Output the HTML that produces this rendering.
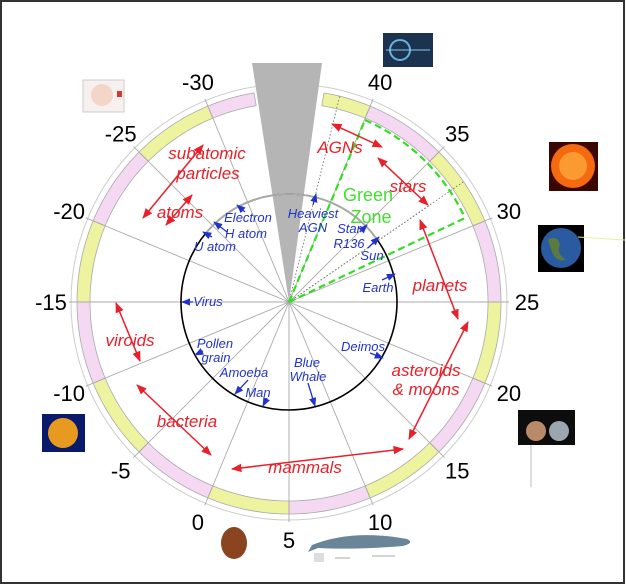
<!DOCTYPE html>
<html><head><meta charset="utf-8"><style>
html,body{margin:0;padding:0;background:#fff;}
svg{display:block;}
text{font-family:"Liberation Sans",sans-serif;}
.r{fill:#e8202a;font-style:italic;font-size:17px;text-anchor:middle;}
.b{fill:#2233cc;font-style:italic;font-size:13px;text-anchor:middle;}
.n{fill:#000;font-size:22px;text-anchor:middle;}
</style></head><body>
<svg id="s" width="626" height="586" viewBox="0 0 626 586" xmlns="http://www.w3.org/2000/svg">
<defs>
<marker id="ar" viewBox="0 0 10 10" refX="9" refY="5" markerWidth="7" markerHeight="7" orient="auto-start-reverse"><path d="M0,1 L10,5 L0,9 z" fill="#e8202a"/></marker>
<marker id="ab" viewBox="0 0 10 10" refX="9" refY="5" markerWidth="7" markerHeight="7" orient="auto"><path d="M0,1 L10,5 L0,9 z" fill="#2233cc"/></marker>
</defs>
<rect x="1" y="1" width="623" height="582" fill="#fff" stroke="#333" stroke-width="2"/>
<g id="ring"></g>
<g id="ticks"></g>
<polygon points="289,302 252,63 322,63" fill="#b5b5b5"/>
<circle cx="289" cy="302" r="108" fill="none" stroke="#000" stroke-width="1.6"/>
<path id="grayarc" fill="none" stroke="#aaa" stroke-width="1.8"/>
<g id="labels"></g>
<g stroke="#666" stroke-width="0.8" stroke-dasharray="1.5,2">
<line x1="289" y1="302" x2="340" y2="95"/>
<line x1="289" y1="302" x2="463" y2="182"/>
<line x1="289" y1="302" x2="430" y2="205"/>
</g>
<g stroke="#33dd22" stroke-width="2.2" fill="none" stroke-dasharray="7,4">
<line x1="289" y1="302" x2="365" y2="120"/>
<line x1="289" y1="302" x2="465" y2="218"/>
<path d="M365,120 A197,197 0 0 1 465,218"/>
</g>
<text x="368" y="201" fill="#44dd30" font-size="18" text-anchor="middle">Green</text>
<text x="371" y="223" fill="#44dd30" font-size="18" text-anchor="middle">Zone</text>
<g stroke="#e8202a" stroke-width="1.5" marker-start="url(#ar)" marker-end="url(#ar)">
<line x1="143" y1="218" x2="203" y2="145"/>
<line x1="166" y1="225" x2="192" y2="195"/>
<line x1="332" y1="124" x2="382" y2="147"/>
<line x1="378" y1="158" x2="428" y2="205"/>
<line x1="420" y1="220" x2="458" y2="319"/>
<line x1="468" y1="322" x2="409" y2="439"/>
<line x1="116" y1="303" x2="140" y2="361"/>
<line x1="137" y1="385" x2="211" y2="455"/>
<line x1="232" y1="469" x2="403" y2="449"/>
</g>
<text class="r" x="207" y="159">subatomic</text>
<text class="r" x="208" y="179">particles</text>
<text class="r" x="180" y="218">atoms</text>
<text class="r" x="340" y="153">AGNs</text>
<text class="r" x="408" y="192">stars</text>
<text class="r" x="440" y="291">planets</text>
<text class="r" x="130" y="346">viroids</text>
<text class="r" x="426" y="376">asteroids</text>
<text class="r" x="426" y="395">&amp; moons</text>
<text class="r" x="187" y="427">bacteria</text>
<text class="r" x="305" y="473">mammals</text>
<g stroke="#2233cc" stroke-width="1.3" marker-end="url(#ab)">
<line x1="245" y1="212" x2="237" y2="205"/>
<line x1="227" y1="232" x2="214" y2="222"/>
<line x1="212" y1="237" x2="203" y2="232"/>
<line x1="313" y1="205" x2="316" y2="194"/>
<line x1="360" y1="232" x2="367" y2="225"/>
<line x1="368" y1="248" x2="379" y2="237"/>
<line x1="382" y1="280" x2="395" y2="274"/>
<line x1="193" y1="302" x2="182" y2="302"/>
<line x1="203" y1="351" x2="195" y2="355"/>
<line x1="248" y1="380" x2="235" y2="394"/>
<line x1="267" y1="398" x2="263" y2="406"/>
<line x1="308" y1="383" x2="315" y2="406"/>
<line x1="370" y1="353" x2="383" y2="358"/>
</g>
<text class="b" x="248" y="222">Electron</text>
<text class="b" x="246" y="238">H atom</text>
<text class="b" x="215" y="251">U atom</text>
<text class="b" x="313" y="218">Heaviest</text>
<text class="b" x="313" y="232">AGN</text>
<text class="b" x="349" y="233">Star</text>
<text class="b" x="349" y="248">R136</text>
<text class="b" x="372" y="260">Sun</text>
<text class="b" x="378" y="292">Earth</text>
<text class="b" x="208" y="306">Virus</text>
<text class="b" x="215" y="348">Pollen</text>
<text class="b" x="216" y="362">grain</text>
<text class="b" x="244" y="377">Amoeba</text>
<text class="b" x="258" y="397">Man</text>
<text class="b" x="307" y="367">Blue</text>
<text class="b" x="308" y="381">Whale</text>
<text class="b" x="363" y="351">Deimos</text>
<rect x="383" y="33" width="50" height="34" fill="#1c3350"/>
<circle cx="400" cy="50" r="10" fill="none" stroke="#6ab0e0" stroke-width="2"/>
<line x1="386" y1="50" x2="430" y2="50" stroke="#8cc8f0"/>
<rect x="83" y="80" width="41" height="32" fill="#f6f0ee" stroke="#ccc"/>
<circle cx="102" cy="95" r="11" fill="#f3d6c8"/>
<rect x="117" y="91" width="5" height="6" fill="#d33"/>
<rect x="549" y="142" width="49" height="49" fill="#3a0800"/>
<circle cx="573" cy="166" r="22" fill="#f56a10"/>
<circle cx="573" cy="166" r="14" fill="#fb9a30"/>
<rect x="538" y="225" width="46" height="47" fill="#000"/>
<circle cx="561" cy="248" r="20" fill="#2a5aa0"/>
<path d="M548,240 q8,-6 12,4 q-4,10 6,16 q-10,2 -14,-8z" fill="#5a7a40"/>
<rect x="42" y="414" width="43" height="38" fill="#0a1a6a"/>
<circle cx="63" cy="433" r="15" fill="#e89a20"/>
<rect x="518" y="410" width="57" height="35" fill="#0d0d0d"/>
<circle cx="536" cy="431" r="10" fill="#b88a6a"/>
<circle cx="559" cy="431" r="10" fill="#9aa6b0"/>
<line x1="531" y1="445" x2="531" y2="487" stroke="#bbb"/>
<ellipse cx="234" cy="543" rx="13" ry="16" fill="#8a4420"/>
<path d="M312,545 q40,-16 95,-6 q8,4 -4,7 q-50,4 -85,2 l-10,4z" fill="#6a8498"/>
<rect x="314" y="553" width="10" height="9" fill="#ddd"/>
<line x1="335" y1="558" x2="350" y2="558" stroke="#aaa"/>
<line x1="372" y1="556" x2="395" y2="556" stroke="#aaa"/>
<line x1="578" y1="237" x2="625" y2="240" stroke="#e8f0a0" stroke-width="1"/>
</svg>
<script>
(function(){
var NS="http://www.w3.org/2000/svg",cx=289,cy=302;
function el(t,a,p){var e=document.createElementNS(NS,t);for(var k in a)e.setAttribute(k,a[k]);p.appendChild(e);return e;}
function ang(v){return (180+(v+15)*4.5)*Math.PI/180;}
function pt(a,r){return [cx+r*Math.cos(a),cy-r*Math.sin(a)];}
function seg(a1,a2,r1,r2,fill,g){
 var pts=[],n=24,j,a;
 for(j=0;j<=n;j++){a=a1+(a2-a1)*j/n;pts.push(pt(a,r2).join(","));}
 for(j=n;j>=0;j--){a=a1+(a2-a1)*j/n;pts.push(pt(a,r1).join(","));}
 el("polygon",{points:pts.join(" "),fill:fill,stroke:"#aaa","stroke-width":"0.8"},g);
}
var ring=document.getElementById("ring"),Y="#eef3a0",P="#f5d8f2";
el("circle",{cx:cx,cy:cy,r:218,fill:"none",stroke:"#ccc","stroke-width":"1"},ring);
for(var i=0;i<14;i++){var v=-30+5*i;seg(ang(v),ang(v+5),199,212,(i%2==0)?Y:P,ring);}
seg(ang(40),80.5*Math.PI/180+2*Math.PI,199,212,Y,ring);
seg(99.5*Math.PI/180,ang(-30),199,212,P,ring);
var tk=document.getElementById("ticks"),lb=document.getElementById("labels");
for(var w=-30;w<=40;w+=5){var a=ang(w),e=pt(a,220);
 el("line",{x1:cx,y1:cy,x2:e[0],y2:e[1],stroke:"#aaa","stroke-width":"0.9"},tk);
 var l=pt(a,238);var t=el("text",{x:l[0],y:l[1]+8,"class":"n"},lb);t.textContent=String(w);}
var g1=pt(140*Math.PI/180,108),g2=pt(35*Math.PI/180,108);
document.getElementById("grayarc").setAttribute("d","M"+g1+" A108,108 0 0 1 "+g2);
})();
</script>
</body></html>
